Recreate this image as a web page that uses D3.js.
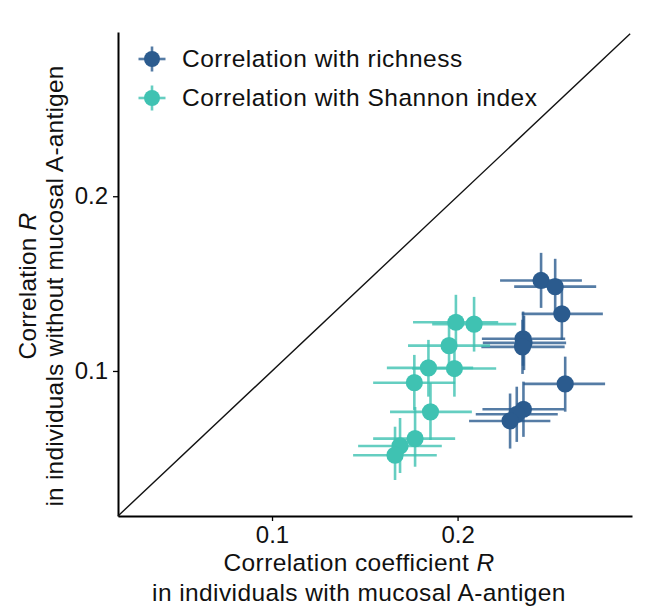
<!DOCTYPE html>
<html>
<head>
<meta charset="utf-8">
<style>
  body { margin: 0; background: #fff; }
  text { font-family: 'Liberation Sans', Arial, sans-serif; fill: #111; }
  .axis path, .axis line { stroke: #000; }
</style>
</head>
<body>
<div id="chart--wrap"></div>
<script src="https://cdn.jsdelivr.net/npm/d3@7"></script>
<script>
;(function() {

// Correlation with richness
const richX     = [0.2450, 0.2526, 0.2562, 0.2353, 0.2358, 0.2350, 0.2580, 0.2355, 0.2319, 0.2283];
const richY     = [0.1518, 0.1483, 0.1327, 0.1184, 0.1161, 0.1138, 0.0926, 0.0781, 0.0752, 0.0714];
const richXLow  = [0.2229, 0.2305, 0.2346, 0.2131, 0.2136, 0.2128, 0.2355, 0.2134, 0.2098, 0.2062];
const richXHigh = [0.2670, 0.2747, 0.2783, 0.2580, 0.2585, 0.2577, 0.2795, 0.2575, 0.2540, 0.2500];
const richYLow  = [0.1361, 0.1321, 0.1178, 0.1030, 0.1005, 0.0983, 0.0767, 0.0623, 0.0594, 0.0556];
const richYHigh = [0.1676, 0.1642, 0.1482, 0.1340, 0.1316, 0.1293, 0.1082, 0.0939, 0.0910, 0.0871];

// Correlation with Shannon index
const shanX     = [0.1991, 0.2089, 0.1954, 0.1843, 0.1983, 0.1767, 0.1854, 0.1771, 0.1690, 0.1663];
const shanY     = [0.1279, 0.1268, 0.1145, 0.1018, 0.1014, 0.0933, 0.0766, 0.0613, 0.0571, 0.0518];
const shanXLow  = [0.1760, 0.1863, 0.1733, 0.1619, 0.1755, 0.1545, 0.1636, 0.1545, 0.1464, 0.1437];
const shanXHigh = [0.2219, 0.2316, 0.2175, 0.2084, 0.2208, 0.1987, 0.2077, 0.1987, 0.1915, 0.1888];
const shanYLow  = [0.1140, 0.1111, 0.0995, 0.0853, 0.0853, 0.0777, 0.0605, 0.0452, 0.0416, 0.0376];
const shanYHigh = [0.1436, 0.1424, 0.1295, 0.1178, 0.1167, 0.1092, 0.0932, 0.0794, 0.0731, 0.0681];

const xTicks = [0.1, 0.2];
const yTicks = [0.1, 0.2];
const axisDomain = [0.017, 0.294];
const diagonal = [0.017, 0.293];

const catConfig = [{
  name: 'richness',
  color: '#2b5b8e',
  legendText: 'Correlation with richness',
  x: richX, y: richY, xLow: richXLow, xHigh: richXHigh, yLow: richYLow, yHigh: richYHigh
},
{
  name: 'shannon',
  color: '#3fc2b2',
  legendText: 'Correlation with Shannon index',
  x: shanX, y: shanY, xLow: shanXLow, xHigh: shanXHigh, yLow: shanYLow, yHigh: shanYHigh
}];

const W = 648, H = 611;
const margin = { top: 32, right: 16, bottom: 95, left: 118 };
const width = W - margin.left - margin.right;
const height = H - margin.top - margin.bottom;

const x = d3.scaleLinear().domain(axisDomain).range([0, width]);
const y = d3.scaleLinear().domain(axisDomain).range([height, 0]);

const svg = d3.select('#chart--wrap').append('svg')
  .attr('width', W)
  .attr('height', H);

svg.append('rect').attr('width', W).attr('height', H).attr('fill', '#fff');

const group = svg.append('g')
  .attr('transform', `translate(${margin.left}, ${margin.top})`);

// Axes
const xAxis = d3.axisBottom(x).tickValues(xTicks).tickFormat(d3.format('.1f'))
  .tickSize(5).tickSizeOuter(0).tickPadding(5);
const yAxis = d3.axisLeft(y).tickValues(yTicks).tickFormat(d3.format('.1f'))
  .tickSize(5).tickSizeOuter(0).tickPadding(5);

const gx = group.append('g')
  .attr('class', 'axis x-axis')
  .attr('transform', `translate(0, ${height})`)
  .call(xAxis);
const gy = group.append('g')
  .attr('class', 'axis y-axis')
  .call(yAxis);

[gx, gy].forEach(g => {
  g.select('.domain').attr('stroke-width', 2);
  g.selectAll('.tick line').attr('stroke-width', 1.3);
  g.selectAll('.tick text').style('font-size', '24px').attr('fill', '#111');
});

// Identity line
group.append('line')
  .attr('x1', x(diagonal[0])).attr('y1', y(diagonal[0]))
  .attr('x2', x(diagonal[1])).attr('y2', y(diagonal[1]))
  .attr('stroke', '#111')
  .attr('stroke-width', 1.4);

// Error bars first, then points
catConfig.forEach(cat => {
  const pts = cat.x.map((v, i) => ({
    x: v, y: cat.y[i], xl: cat.xLow[i], xh: cat.xHigh[i], yl: cat.yLow[i], yh: cat.yHigh[i]
  }));
  const bars = group.append('g').attr('class', 'bars ' + cat.name)
    .attr('stroke', cat.color)
    .attr('stroke-opacity', 0.8)
    .attr('stroke-width', 2.6);
  bars.selectAll('.hbar').data(pts).enter().append('line')
    .attr('x1', d => x(d.xl)).attr('x2', d => x(d.xh))
    .attr('y1', d => y(d.y)).attr('y2', d => y(d.y));
  bars.selectAll('.vbar').data(pts).enter().append('line')
    .attr('x1', d => x(d.x)).attr('x2', d => x(d.x))
    .attr('y1', d => y(d.yl)).attr('y2', d => y(d.yh));
  cat.pts = pts;
});

catConfig.forEach(cat => {
  group.append('g').attr('class', 'points ' + cat.name)
    .selectAll('circle').data(cat.pts).enter().append('circle')
    .attr('cx', d => x(d.x))
    .attr('cy', d => y(d.y))
    .attr('r', 8.6)
    .attr('fill', cat.color);
});

// Legend
const legend = svg.append('g').attr('class', 'legend');
const key = legend.selectAll('.key')
  .data(catConfig)
  .enter()
  .append('g')
  .attr('transform', (d, i) => `translate(152, ${59 + i * 39})`);

key.append('line').attr('x1', -13.5).attr('x2', 13.5)
  .attr('stroke', d => d.color).attr('stroke-opacity', 0.8).attr('stroke-width', 2.6);
key.append('line').attr('y1', -12.5).attr('y2', 12.5)
  .attr('stroke', d => d.color).attr('stroke-opacity', 0.8).attr('stroke-width', 2.6);
key.append('circle').attr('r', 8).attr('fill', d => d.color);
key.append('text')
  .attr('x', 30)
  .attr('y', 8)
  .style('font-size', '24.5px')
  .style('letter-spacing', '0.5px')
  .text(d => d.legendText);

// Axis titles
const xTitle = svg.append('text')
  .attr('text-anchor', 'middle')
  .style('font-size', '24.5px')
  .style('letter-spacing', '0.4px');
const xl1 = xTitle.append('tspan').attr('x', 359).attr('y', 571);
xl1.append('tspan').text('Correlation coefficient ');
xl1.append('tspan').style('font-style', 'italic').text('R');
xTitle.append('tspan').attr('x', 359).attr('y', 601)
  .text('in individuals with mucosal A-antigen');

const yTitle = svg.append('text')
  .attr('text-anchor', 'middle')
  .attr('transform', 'translate(0, 286) rotate(-90)')
  .style('font-size', '24.5px')
  .style('letter-spacing', '0.2px');
const yl1 = yTitle.append('tspan').attr('x', 0).attr('y', 36);
yl1.append('tspan').text('Correlation ');
yl1.append('tspan').style('font-style', 'italic').text('R');
yTitle.append('tspan').attr('x', 0).attr('y', 63)
  .text('in individuals without mucosal A-antigen');

})();
</script>
</body>
</html>
